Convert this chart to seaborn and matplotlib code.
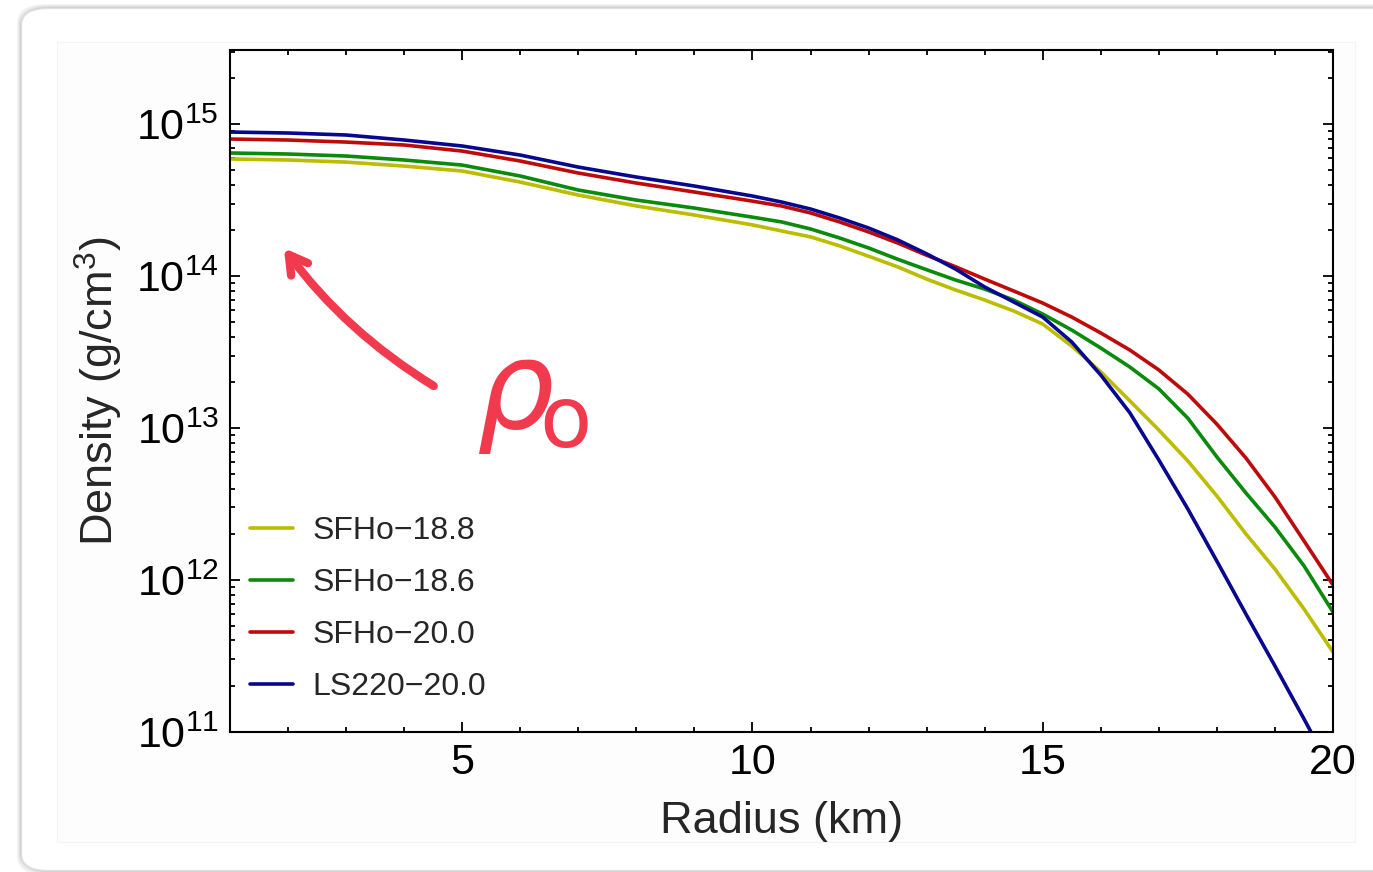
import numpy as np
import pandas as pd
import matplotlib
matplotlib.use("Agg")
import matplotlib.pyplot as plt
import seaborn as sns
from matplotlib.patches import FancyBboxPatch
from matplotlib.ticker import MultipleLocator, LogLocator, NullFormatter

# --- data (radius in km, density in g/cm^3) ---
radius = [1, 2, 3, 4, 5, 6, 7, 8, 9, 10, 10.5, 11, 11.5, 12, 12.5, 13, 13.5,
          14, 14.5, 15, 15.5, 16, 16.5, 17, 17.5, 18, 18.5, 19, 19.5, 20]

sfho_188 = [5.89e14, 5.80e14, 5.62e14, 5.29e14, 4.91e14, 4.15e14, 3.41e14, 2.89e14,
            2.52e14, 2.17e14, 1.98e14, 1.81e14, 1.58e14, 1.35e14, 1.15e14, 9.55e13,
            8.09e13, 6.95e13, 5.89e13, 4.83e13, 3.46e13, 2.34e13, 1.51e13, 9.70e12,
            6.07e12, 3.57e12, 2.01e12, 1.18e12, 6.45e11, 3.36e11]
sfho_186 = [6.45e14, 6.35e14, 6.16e14, 5.80e14, 5.37e14, 4.55e14, 3.68e14, 3.16e14,
            2.80e14, 2.44e14, 2.27e14, 2.04e14, 1.78e14, 1.53e14, 1.29e14, 1.10e14,
            9.41e13, 8.21e13, 6.95e13, 5.62e13, 4.41e13, 3.36e13, 2.52e13, 1.81e13,
            1.16e13, 6.45e12, 3.74e12, 2.23e12, 1.24e12, 6.16e11]
sfho_200 = [7.97e14, 7.85e14, 7.61e14, 7.28e14, 6.64e14, 5.71e14, 4.76e14, 4.09e14,
            3.57e14, 3.11e14, 2.89e14, 2.60e14, 2.27e14, 1.95e14, 1.65e14, 1.37e14,
            1.15e14, 9.55e13, 7.97e13, 6.64e13, 5.37e13, 4.22e13, 3.26e13, 2.41e13,
            1.67e13, 1.06e13, 6.35e12, 3.52e12, 1.81e12, 9.27e11]
ls220_200 = [8.86e14, 8.73e14, 8.47e14, 7.85e14, 7.17e14, 6.25e14, 5.21e14, 4.48e14,
             3.91e14, 3.36e14, 3.07e14, 2.76e14, 2.41e14, 2.07e14, 1.73e14, 1.40e14,
             1.11e14, 8.47e13, 6.75e13, 5.37e13, 3.68e13, 2.23e13, 1.26e13, 6.16e12,
             2.93e12, 1.33e12, 5.97e11, 2.72e11, 1.22e11, 5.37e10]

labels = ["SFHo\u221218.8", "SFHo\u221218.6", "SFHo\u221220.0", "LS220\u221220.0"]
colors = ["#bcbc00", "#0b8a0b", "#bf0a0a", "#07078f"]

rows = []
for name, vals in zip(labels, [sfho_188, sfho_186, sfho_200, ls220_200]):
    for r, d in zip(radius, vals):
        rows.append({"Radius": r, "Density": d, "Model": name})
df = pd.DataFrame(rows)

sns.set_style("ticks")
plt.rcParams["font.family"] = ["Liberation Sans", "DejaVu Sans"]
plt.rcParams["mathtext.fontset"] = "custom"
plt.rcParams["mathtext.rm"] = "Liberation Sans"
plt.rcParams["mathtext.it"] = "Liberation Sans:italic"

W, H = 1373, 872
fig = plt.figure(figsize=(W / 100, H / 100), dpi=100)
fig.patch.set_facecolor("white")

# screenshot window frame with a soft shadow (behind the axes)
for i, a in enumerate([0.05, 0.08, 0.12, 0.2]):
    off = 4 - i
    fr = FancyBboxPatch(((22 - off) / W, 1 - (870 + off) / H),
                        (1420 + 2 * off) / W, (861 + 2 * off) / H,
                        boxstyle="round,pad=0,rounding_size=0.02",
                        transform=fig.transFigure, facecolor="none",
                        edgecolor="#707070", lw=1.6, alpha=a, zorder=-2)
    fig.patches.append(fr)
inner = FancyBboxPatch((57 / W, 1 - 842 / H), 1298 / W, 800 / H,
                       boxstyle="square,pad=0", transform=fig.transFigure,
                       facecolor="#fdfdfd", edgecolor="#f4f4f4", lw=0.8, zorder=-1)
fig.patches.append(inner)

ax = fig.add_axes([230 / W, 1 - 732 / H, 1103 / W, 682 / H])
ax.set_facecolor("white")

sns.lineplot(data=df, x="Radius", y="Density", hue="Model", hue_order=labels,
             palette=dict(zip(labels, colors)), linewidth=2.6, ax=ax, legend=True,
             solid_joinstyle="round")

ax.set_yscale("log")
ax.set_xlim(1, 20)
ax.set_ylim(1e11, 3.07e15)

ax.xaxis.set_major_locator(MultipleLocator(5))
ax.xaxis.set_minor_locator(MultipleLocator(1))
ax.yaxis.set_major_locator(LogLocator(base=10, numticks=10))
ax.yaxis.set_minor_locator(LogLocator(base=10, subs=np.arange(2, 10), numticks=20))
ax.yaxis.set_minor_formatter(NullFormatter())
ax.set_xticks([5, 10, 15, 20])

ax.tick_params(which="both", direction="in", top=True, right=True, width=1.3,
               colors="black", labelsize=31)
ax.tick_params(which="major", length=7.5, pad=8)
ax.tick_params(which="minor", length=3.8)
for s in ax.spines.values():
    s.set_linewidth(1.5)
    s.set_color("black")

ax.set_xlabel("Radius (km)", fontsize=32.5)
ax.set_ylabel("Density (g/cm$^3$)", fontsize=32.5)
ax.xaxis.set_label_coords(0.5, -0.101)
ax.yaxis.set_label_coords(-0.095, 0.5)

handles, labs = ax.get_legend_handles_labels()
ax.legend(handles, labs, loc="lower left", bbox_to_anchor=(0.0, 0.0145),
          frameon=False, fontsize=23, handlelength=1.35, handletextpad=0.6,
          labelspacing=0.69, borderpad=0.63, borderaxespad=0.0)

# hand-drawn annotation: arrow pointing to the central density rho_0
red = "#f23a4e"
ax.annotate("", xy=(1.9, 1.58e14), xytext=(4.55, 1.85e13),
            arrowprops=dict(arrowstyle="->,head_length=1.3,head_width=0.75",
                            color=red, lw=6, connectionstyle="arc3,rad=-0.1",
                            capstyle="round", joinstyle="round"))
ax.text(5.24, 1.0e13, r"$\rho_{\!\mathrm{o}}$", color=red, fontsize=88,
        ha="left", va="baseline", math_fontfamily="dejavusans")

fig.savefig("out.png", dpi=100)
